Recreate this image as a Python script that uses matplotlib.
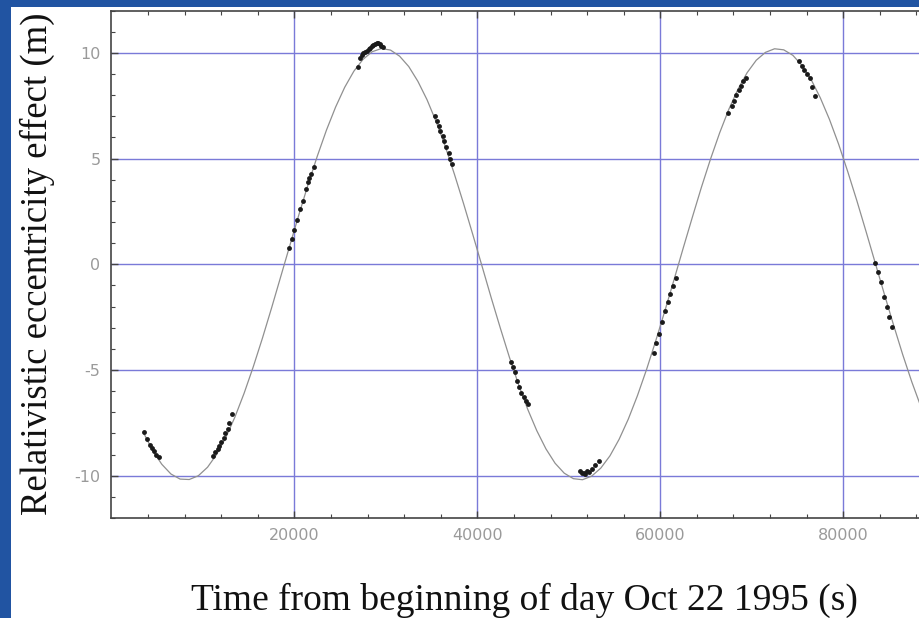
import matplotlib
matplotlib.use("Agg")
import matplotlib.pyplot as plt
from matplotlib.patches import Rectangle
import numpy as np

# fitted curve, every 1000 s from 3500 s
curve_t0 = 3500
curve_step = 1000
curve_y = [-7.97, -8.81, -9.46, -9.92, -10.16, -10.18, -10.00, -9.60, -8.99, -8.19,
           -7.22, -6.10, -4.85, -3.50, -2.07, -0.59, 0.89, 2.36, 3.78, 5.11,
           6.34, 7.43, 8.37, 9.13, 9.69, 10.05, 10.20, 10.13, 9.84, 9.35,
           8.65, 7.78, 6.74, 5.56, 4.25, 2.86, 1.41, -0.07, -1.56, -3.00,
           -4.39, -5.68, -6.85, -7.87, -8.73, -9.41, -9.88, -10.14, -10.19, -10.02,
           -9.64, -9.06, -8.28, -7.33, -6.22, -4.98, -3.63, -2.21, -0.74, 0.75,
           2.21, 3.64, 4.98, 6.22, 7.33, 8.28, 9.06, 9.65, 10.02, 10.19,
           10.14, 9.88, 9.40, 8.73, 7.87, 6.85, 5.68, 4.38, 3.00, 1.55,
           0.07, -1.41, -2.86, -4.26, -5.56, -6.74, -7.78]
curve_t = [curve_t0 + curve_step * i for i in range(len(curve_y))]

# measured points
data_t = [3600, 3850, 4250, 4450, 4700, 4900, 5150,
          11150, 11350, 11600, 11800, 12000, 12250, 12450, 12700, 12900, 13220,
          19450, 19780, 20000, 20330, 20660, 20980, 21310, 21530, 21640, 21860, 22190,
          27000, 27210, 27430, 27540, 27760, 27980, 28150, 28300, 28470, 28630, 28850,
          29070, 29180, 29350, 29510, 29730,
          35330, 35600, 35770, 35960, 36210, 36390, 36610, 36860, 37050, 37230,
          43680, 43900, 44080, 44340, 44560, 44810, 45060, 45360, 45500,
          51180, 51440, 51620, 51800, 51980, 52170, 52530, 52900, 53260,
          59270, 59560, 59890, 60180, 60470, 60800, 61090, 61390, 61710,
          67460, 67830, 68010, 68310, 68560, 68820, 69100, 69400,
          75190, 75480, 75740, 76030, 76320, 76580, 76940,
          83500, 83860, 84120, 84480, 84780, 85030, 85320]
data_y = [-7.92, -8.25, -8.54, -8.70, -8.85, -9.00, -9.10,
          -9.06, -8.90, -8.75, -8.60, -8.40, -8.20, -8.00, -7.80, -7.50, -7.10,
          0.75, 1.18, 1.60, 2.08, 2.60, 3.00, 3.54, 3.90, 4.10, 4.25, 4.62,
          9.34, 9.76, 9.90, 10.00, 10.05, 10.10, 10.18, 10.24, 10.30, 10.38, 10.42,
          10.47, 10.47, 10.40, 10.33, 10.28,
          7.00, 6.76, 6.53, 6.29, 6.06, 5.82, 5.55, 5.27, 4.99, 4.72,
          -4.64, -4.87, -5.11, -5.50, -5.82, -6.10, -6.29, -6.45, -6.60,
          -9.80, -9.87, -9.85, -9.90, -9.78, -9.83, -9.67, -9.48, -9.32,
          -4.20, -3.73, -3.30, -2.75, -2.23, -1.78, -1.42, -1.05, -0.63,
          7.15, 7.47, 7.70, 8.02, 8.25, 8.44, 8.65, 8.80,
          9.59, 9.37, 9.17, 9.00, 8.80, 8.38, 7.94,
          0.08, -0.39, -0.86, -1.57, -2.04, -2.51, -2.99]

x_major = [20000, 40000, 60000, 80000]
y_major = [-10, -5, 0, 5, 10]

fig = plt.figure(figsize=(9.2, 6.18), dpi=100, facecolor="#2154a2")
fig.patches.append(Rectangle((11 / 920, 0), 1, (618 - 7) / 618,
                             transform=fig.transFigure, facecolor="white",
                             edgecolor="none", zorder=-5))

ax = fig.add_axes([111.5 / 920, 100 / 618, (920 - 111.5) / 920, 507.5 / 618])
ax.set_zorder(2)
ax.set_facecolor("white")
ax.plot(curve_t, curve_y, color="#909090", lw=0.9, zorder=2)
ax.plot(data_t, data_y, "o", color="#1a1a1a", ms=3.5, mew=0, zorder=3)

ax.set_xlim(0, 88400)
ax.set_ylim(-12, 12)
ax.set_xticks(x_major)
ax.set_yticks(y_major)
ax.set_yticklabels(["-10", "-5", "0", "5", "10"])
ax.set_xticks(np.arange(4000, 88400, 4000), minor=True)
ax.set_yticks(np.arange(-12, 13, 1), minor=True)
ax.grid(True, which="major", color="#7a7ad8", lw=1.0)
ax.set_axisbelow(True)

for side in ["left", "bottom", "top"]:
    ax.spines[side].set_color("#444444")
    ax.spines[side].set_linewidth(1.2)
ax.spines["right"].set_visible(False)

ax.tick_params(which="both", direction="in", top=True, right=False,
               color="#444444", labelcolor="#9a9a9a", labelsize=11.5)
ax.tick_params(which="major", length=5, width=1.0)
ax.tick_params(which="minor", length=3, width=0.8)
ax.tick_params(axis="x", pad=7)
ax.tick_params(axis="y", pad=8)

fig.text(524 / 920, 8 / 618, "Time from beginning of day Oct 22 1995 (s)",
         family="Liberation Serif", fontsize=27, color="#111111",
         ha="center", va="baseline")
fig.text(37 / 920, (618 - 264) / 618, "Relativistic eccentricity effect (m)",
         family="Liberation Serif", fontsize=26.5, color="#111111",
         rotation=90, ha="center", va="center")

fig.savefig("out.png", dpi=100, facecolor=fig.get_facecolor())
